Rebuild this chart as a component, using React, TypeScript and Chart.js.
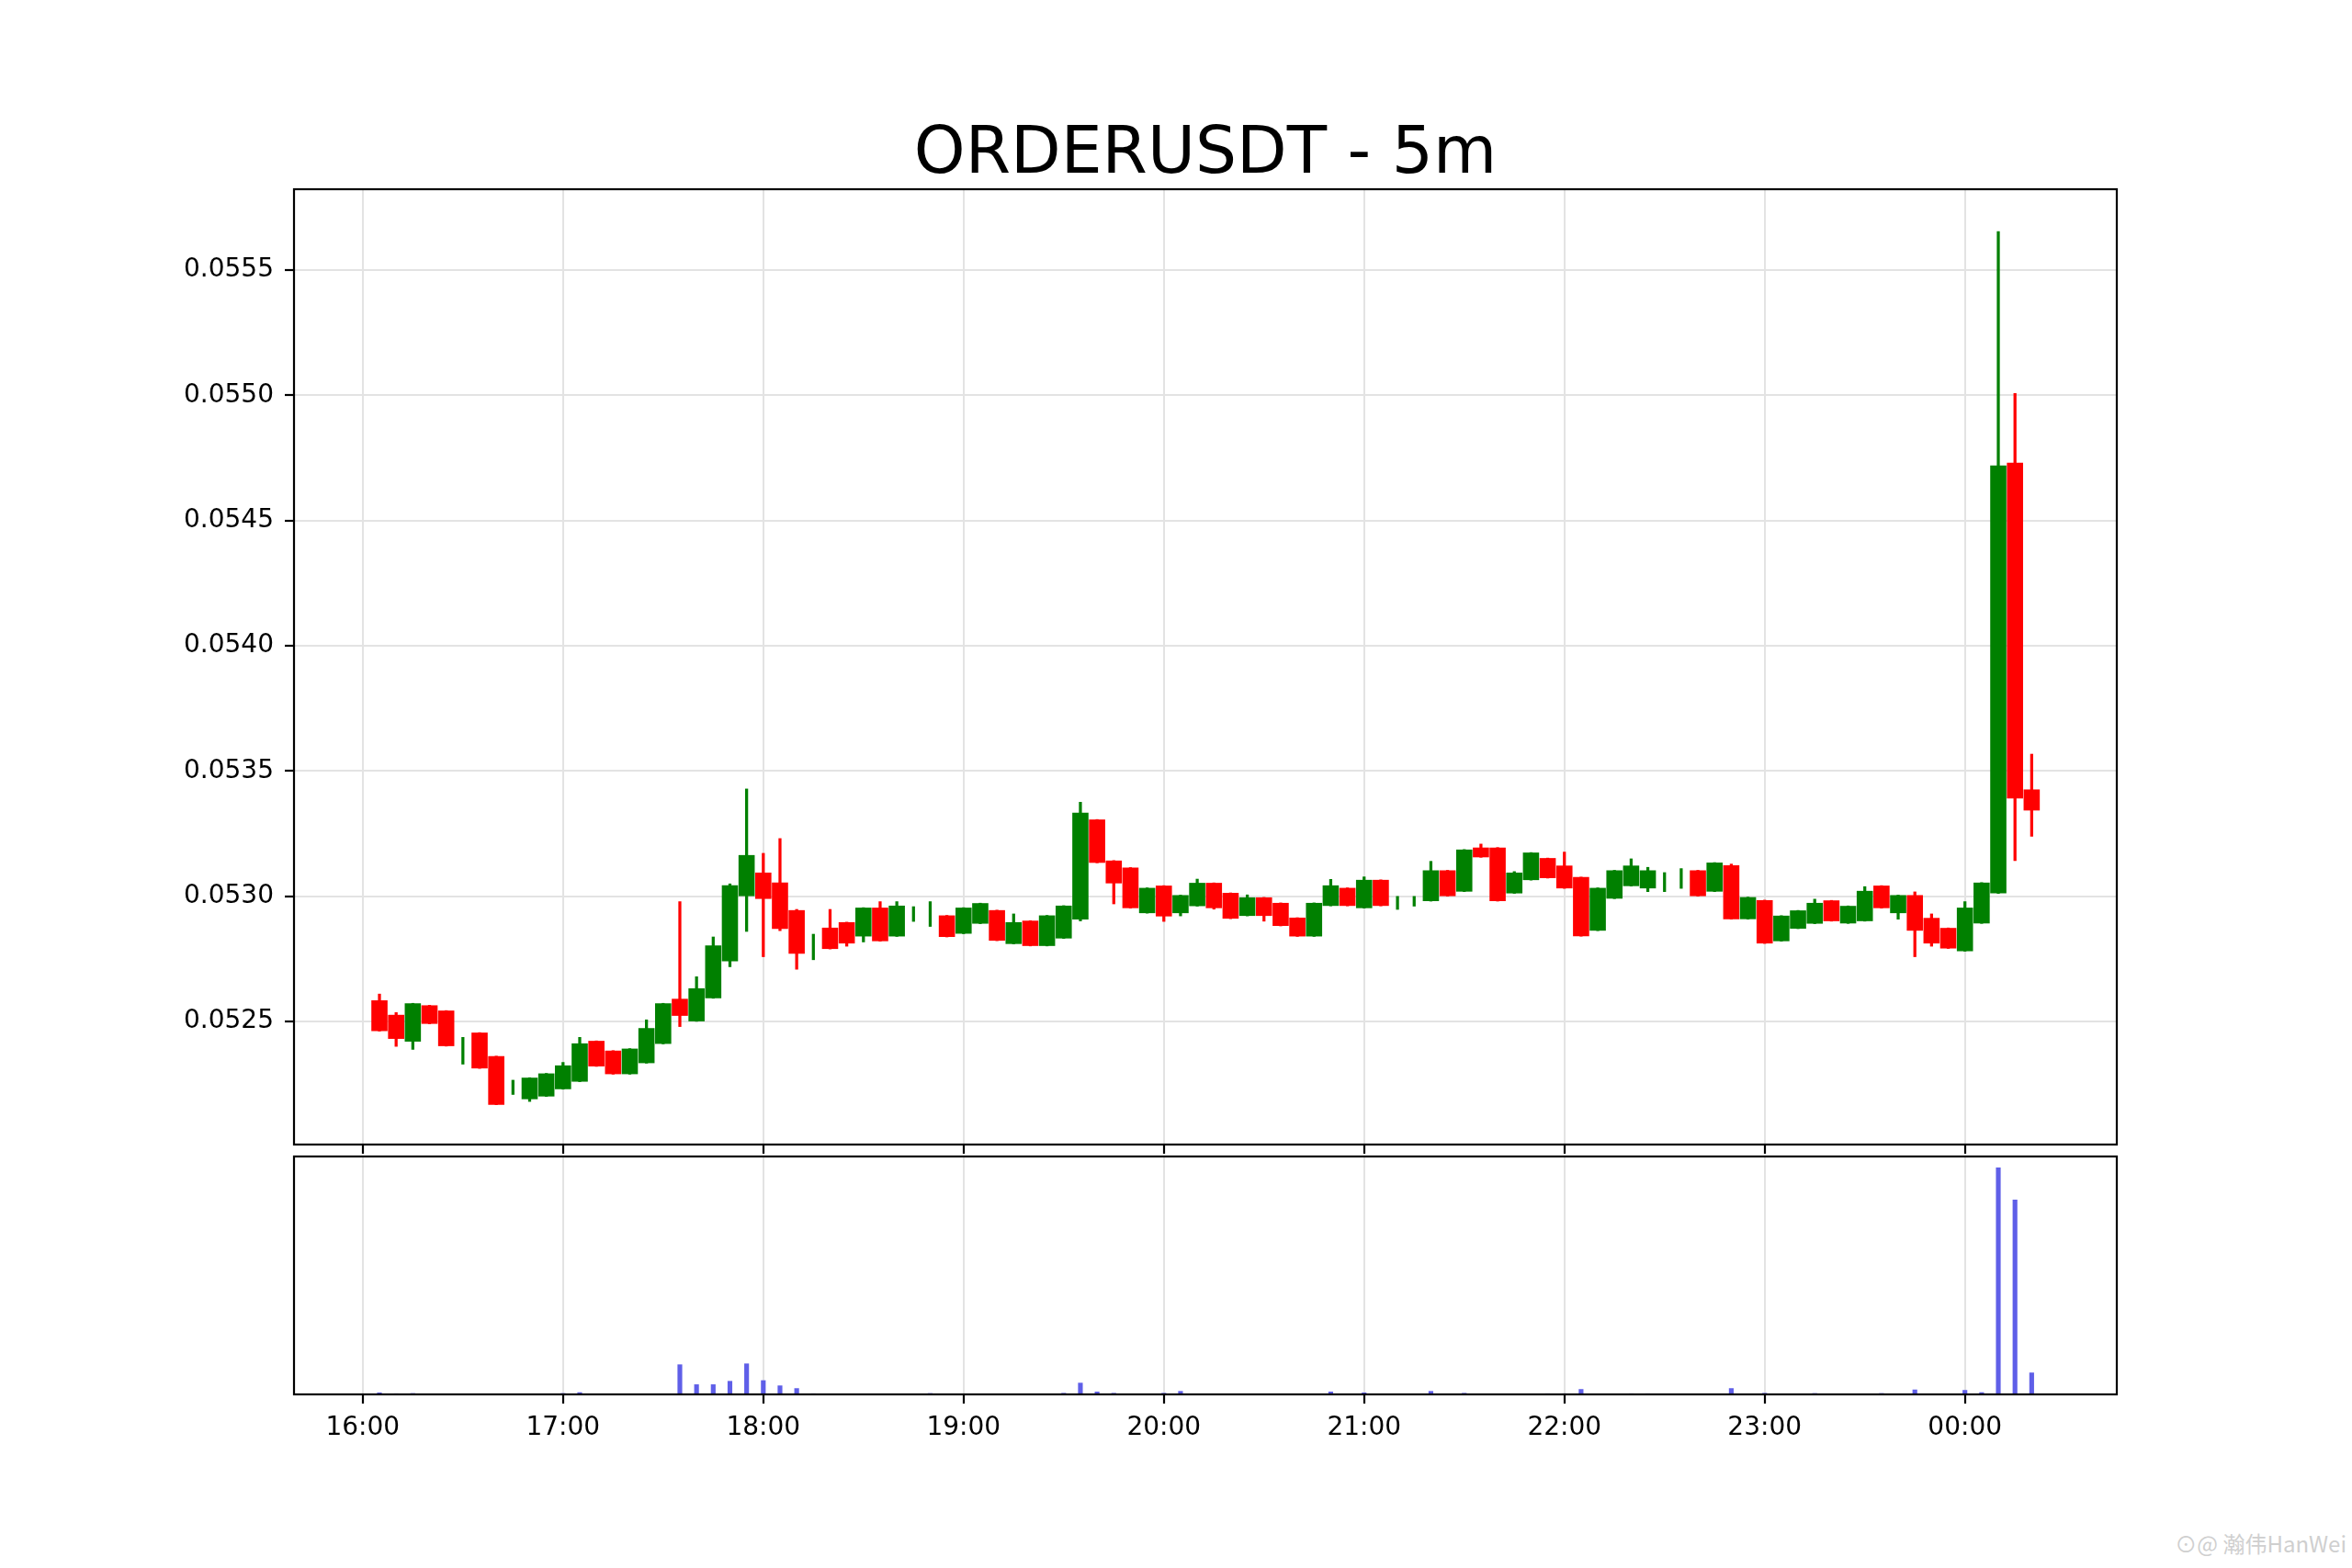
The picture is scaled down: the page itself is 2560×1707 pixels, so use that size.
import { useEffect, useRef } from "react";
import { Chart, registerables } from "chart.js";

Chart.register(...registerables);

const times = [
  "16:05", "16:10", "16:15", "16:20", "16:25", "16:30", "16:35", "16:40", "16:45", "16:50", "16:55",
  "17:00", "17:05", "17:10", "17:15", "17:20", "17:25", "17:30", "17:35", "17:40", "17:45", "17:50", "17:55",
  "18:00", "18:05", "18:10", "18:15", "18:20", "18:25", "18:30", "18:35", "18:40", "18:45", "18:50", "18:55",
  "19:00", "19:05", "19:10", "19:15", "19:20", "19:25", "19:30", "19:35", "19:40", "19:45", "19:50", "19:55",
  "20:00", "20:05", "20:10", "20:15", "20:20", "20:25", "20:30", "20:35", "20:40", "20:45", "20:50", "20:55",
  "21:00", "21:05", "21:10", "21:15", "21:20", "21:25", "21:30", "21:35", "21:40", "21:45", "21:50", "21:55",
  "22:00", "22:05", "22:10", "22:15", "22:20", "22:25", "22:30", "22:35", "22:40", "22:45", "22:50", "22:55",
  "23:00", "23:05", "23:10", "23:15", "23:20", "23:25", "23:30", "23:35", "23:40", "23:45", "23:50", "23:55",
  "00:00", "00:05", "00:10", "00:15", "00:20",
];

const opens = [
  0.052584, 0.052526, 0.052419, 0.052564, 0.052543, 0.05238, 0.052455, 0.052361, 0.05223, 0.052189, 0.0522,
  0.052229, 0.052259, 0.052422, 0.052383, 0.052289, 0.052333, 0.05241, 0.05259, 0.0525, 0.052592, 0.05274, 0.053,
  0.053094, 0.053054, 0.052944, 0.0528, 0.052874, 0.052896, 0.052839, 0.052954, 0.052839, 0.05293, 0.05293, 0.052923,
  0.05285, 0.05289, 0.052944, 0.052809, 0.052902, 0.052801, 0.052831, 0.052907, 0.053306, 0.053142, 0.053114, 0.052932,
  0.053042, 0.052932, 0.05296, 0.053053, 0.053013, 0.052921, 0.052995, 0.052973, 0.052914, 0.052839, 0.052961, 0.053033,
  0.052952, 0.053065, 0.05297, 0.05298, 0.05298, 0.053103, 0.053018, 0.053194, 0.053194, 0.053011, 0.053064, 0.053152,
  0.053122, 0.053076, 0.052862, 0.05299, 0.05304, 0.053031, 0.05306, 0.05307, 0.053103, 0.053018, 0.053123, 0.052908,
  0.052984, 0.05282, 0.05287, 0.05289, 0.052983, 0.052891, 0.0529, 0.053042, 0.052932, 0.053004, 0.052913, 0.052873,
  0.05278, 0.052891, 0.053011, 0.054731, 0.053426,
];

const highs = [
  0.052609, 0.052535, 0.052572, 0.052564, 0.052543, 0.052436, 0.052455, 0.052361, 0.052265, 0.052275, 0.052292,
  0.052336, 0.052436, 0.052422, 0.052383, 0.052391, 0.052506, 0.052572, 0.052978, 0.052678, 0.052837, 0.053049, 0.053428,
  0.053171, 0.05323, 0.052947, 0.052848, 0.052947, 0.052896, 0.052954, 0.052978, 0.052978, 0.052958, 0.052978, 0.052923,
  0.052954, 0.052972, 0.052944, 0.052929, 0.052902, 0.052923, 0.052962, 0.053375, 0.053306, 0.053142, 0.053114, 0.053033,
  0.053042, 0.053004, 0.053068, 0.053053, 0.053013, 0.053005, 0.052995, 0.052973, 0.052914, 0.052973, 0.053067, 0.053033,
  0.053077, 0.053065, 0.052999, 0.052999, 0.053139, 0.053103, 0.053186, 0.053208, 0.053194, 0.053098, 0.053174, 0.053152,
  0.053176, 0.053076, 0.053033, 0.053103, 0.053149, 0.053115, 0.053094, 0.05311, 0.053103, 0.053134, 0.053128, 0.052996,
  0.052984, 0.052922, 0.052943, 0.052988, 0.052983, 0.052961, 0.053038, 0.053042, 0.053004, 0.053017, 0.052929, 0.052873,
  0.052978, 0.053054, 0.055654, 0.055007, 0.053567,
];

const lows = [
  0.052461, 0.0524, 0.052388, 0.05249, 0.052401, 0.052329, 0.052312, 0.052167, 0.052208, 0.05218, 0.0522,
  0.052229, 0.052259, 0.05232, 0.052289, 0.052289, 0.052333, 0.05241, 0.052479, 0.0525, 0.052592, 0.052718, 0.052859,
  0.052758, 0.052862, 0.052708, 0.052746, 0.052789, 0.0528, 0.052817, 0.05282, 0.052839, 0.052899, 0.052879, 0.052837,
  0.05285, 0.05289, 0.052822, 0.052809, 0.052801, 0.052801, 0.052831, 0.052901, 0.053133, 0.052969, 0.052952, 0.052932,
  0.052899, 0.052921, 0.05296, 0.052948, 0.05291, 0.052921, 0.0529, 0.052881, 0.052839, 0.052839, 0.052961, 0.052961,
  0.052952, 0.052961, 0.052947, 0.05296, 0.05298, 0.053, 0.053018, 0.053155, 0.05298, 0.053011, 0.053064, 0.053072,
  0.053031, 0.05284, 0.052862, 0.05299, 0.05304, 0.053018, 0.053018, 0.053031, 0.053, 0.053018, 0.052908, 0.052908,
  0.052811, 0.05282, 0.05287, 0.05289, 0.0529, 0.052891, 0.0529, 0.052952, 0.052908, 0.052758, 0.0528, 0.052791,
  0.05278, 0.052891, 0.053011, 0.053142, 0.053239,
];

const closes = [
  0.052461, 0.05243, 0.052572, 0.05249, 0.052401, 0.05238, 0.052312, 0.052167, 0.05223, 0.052275, 0.052292,
  0.052324, 0.052412, 0.05232, 0.052289, 0.052391, 0.052473, 0.052572, 0.052522, 0.052632, 0.052803, 0.053043, 0.053164,
  0.052989, 0.052869, 0.05277, 0.0528, 0.052789, 0.052811, 0.052954, 0.05282, 0.052962, 0.05293, 0.05293, 0.052837,
  0.052954, 0.052972, 0.052822, 0.052896, 0.052801, 0.052923, 0.052962, 0.053333, 0.053133, 0.053051, 0.052952, 0.053033,
  0.052919, 0.053004, 0.053053, 0.052952, 0.05291, 0.052995, 0.052921, 0.052881, 0.052839, 0.052973, 0.053043, 0.052961,
  0.053065, 0.052961, 0.05297, 0.05298, 0.053103, 0.053, 0.053186, 0.053155, 0.05298, 0.053094, 0.053174, 0.053072,
  0.053031, 0.05284, 0.053033, 0.053103, 0.053122, 0.053103, 0.05306, 0.05307, 0.053, 0.053134, 0.052908, 0.052996,
  0.052811, 0.052922, 0.052943, 0.052973, 0.0529, 0.052961, 0.053021, 0.052952, 0.053004, 0.052862, 0.052811, 0.052791,
  0.052954, 0.053054, 0.05472, 0.05339, 0.053342,
];

// volume in arbitrary units (no axis labels in the reference)
const volumes = [
  0.7, 0.3, 0.4, 0.1, 0.1, 0.1, 0.2, 0.1, 0.1, 0.1, 0.1,
  0.4, 0.8, 0.1, 0.1, 0.1, 0.2, 0.2, 13.1, 4.3, 4.3, 5.8, 13.5,
  6.1, 3.8, 2.6, 0.3, 0.2, 0.2, 0.2, 0.2, 0.2, 0.1, 0.4, 0.1,
  0.2, 0.2, 0.1, 0.1, 0.1, 0.1, 0.5, 5.0, 1.1, 0.5, 0.2, 0.1,
  0.5, 1.35, 0.2, 0.1, 0.2, 0.1, 0.1, 0.1, 0.1, 0.1, 1.1, 0.1,
  0.7, 0.1, 0.1, 0.1, 1.35, 0.1, 0.5, 0.1, 0.1, 0.1, 0.2, 0.3,
  0.3, 2.2, 0.2, 0.1, 0.3, 0.3, 0.1, 0.1, 0.1, 0.2, 2.6, 0.1,
  0.5, 0.1, 0.1, 0.4, 0.1, 0.1, 0.1, 0.4, 0.1, 2.0, 0.2, 0.1,
  1.8, 0.8, 100, 85.8, 9.5,
];

const TITLE = "ORDERUSDT - 5m";
const GREEN = "#008000";
const RED = "#ff0000";
const VOL_BLUE = "#5f5fe8";
const GRID = "#e3e3e3";
const FONT = "'DejaVu Sans', sans-serif";

// minutes after 16:00
const toMinutes = (t: string) => {
  const [h, m] = t.split(":").map(Number);
  let v = h * 60 + m - 16 * 60;
  if (v < 0) v += 24 * 60;
  return v;
};
const fmtTime = (v: number) => {
  const total = 16 * 60 + Math.round(v);
  const h = Math.floor(total / 60) % 24;
  const m = total % 60;
  return `${String(h).padStart(2, "0")}:${String(m).padStart(2, "0")}`;
};

const X_MIN = -20.6;
const X_MAX = 525.5;
const Y_MIN = 0.052008;
const Y_MAX = 0.055823;

const framePlugin = {
  id: "frame",
  afterDraw(chart: any) {
    const { ctx, chartArea: a } = chart;
    ctx.save();
    ctx.strokeStyle = "#000";
    ctx.lineWidth = 2.2;
    ctx.strokeRect(a.left, a.top, a.right - a.left, a.bottom - a.top);
    ctx.restore();
  },
};

const xScale = (showLabels: boolean, height: number) => ({
  type: "linear" as const,
  min: X_MIN,
  max: X_MAX,
  offset: false,
  afterFit: (s: any) => {
    s.height = height;
  },
  border: { display: false },
  grid: {
    offset: false,
    color: GRID,
    lineWidth: 2,
    tickColor: "#000",
    tickWidth: 2.2,
    tickLength: 10,
  },
  ticks: {
    display: showLabels,
    stepSize: 60,
    includeBounds: false,
    autoSkip: false,
    maxRotation: 0,
    padding: 10,
    color: "#000",
    font: { family: FONT, size: 28 },
    callback: (v: any) => fmtTime(Number(v)),
  },
});

export default function App() {
  const priceRef = useRef<HTMLCanvasElement>(null);
  const volRef = useRef<HTMLCanvasElement>(null);

  useEffect(() => {
    if (!priceRef.current || !volRef.current) return;

    const xs = times.map(toMinutes);
    const colors = closes.map((c, i) => (c >= opens[i] ? GREEN : RED));

    const price = new Chart(priceRef.current, {
      type: "bar",
      data: {
        datasets: [
          {
            label: "body",
            data: xs.map((x, i) => ({ x, y: [opens[i], closes[i]] })) as any,
            backgroundColor: colors,
            categoryPercentage: 1,
            barPercentage: 0.97,
            grouped: false,
            order: 0,
          },
          {
            label: "wick",
            data: xs.map((x, i) => ({ x, y: [lows[i], highs[i]] })) as any,
            backgroundColor: colors,
            barThickness: 2.6,
            grouped: false,
            order: 1,
          },
        ],
      },
      options: {
        animation: false,
        responsive: true,
        maintainAspectRatio: false,
        devicePixelRatio: 1,
        layout: { padding: { left: 0, right: 256, top: 0, bottom: 0 } },
        plugins: {
          legend: { display: false },
          tooltip: { enabled: false },
          title: {
            display: true,
            text: TITLE,
            fullSize: false,
            color: "#000",
            font: { family: FONT, size: 71, weight: "normal", lineHeight: 1 },
            padding: { top: 134, bottom: 1 },
          },
        },
        scales: {
          x: xScale(false, 30) as any,
          y: {
            type: "linear",
            min: Y_MIN,
            max: Y_MAX,
            afterFit: (s: any) => {
              s.width = 320;
            },
            border: { display: false },
            grid: {
              color: GRID,
              lineWidth: 2,
              tickColor: "#000",
              tickWidth: 2.2,
              tickLength: 10,
            },
            ticks: {
              stepSize: 0.0005,
              includeBounds: false,
              padding: 12,
              color: "#000",
              font: { family: FONT, size: 28 },
              callback: (v: any) => Number(v).toFixed(4),
            },
          },
        },
      },
      plugins: [framePlugin],
    });

    const vol = new Chart(volRef.current, {
      type: "bar",
      data: {
        datasets: [
          {
            label: "volume",
            data: xs.map((x, i) => ({ x, y: volumes[i] })) as any,
            backgroundColor: VOL_BLUE,
            barThickness: 4.5,
          },
        ],
      },
      options: {
        animation: false,
        responsive: true,
        maintainAspectRatio: false,
        devicePixelRatio: 1,
        layout: { padding: { left: 0, right: 256, top: 9, bottom: 0 } },
        plugins: {
          legend: { display: false },
          tooltip: { enabled: false },
        },
        scales: {
          x: xScale(true, 62) as any,
          y: {
            type: "linear",
            min: 0,
            max: Math.max(...volumes) * 1.05,
            afterFit: (s: any) => {
              s.width = 320;
            },
            border: { display: false },
            grid: { display: false },
            ticks: { display: false },
          },
        },
      },
      plugins: [framePlugin],
    });

    return () => {
      price.destroy();
      vol.destroy();
    };
  }, []);

  return (
    <div
      style={{
        position: "absolute",
        left: 0,
        top: 0,
        width: 2560,
        height: 1707,
        background: "#fff",
        overflow: "hidden",
      }}
    >
      <div style={{ position: "absolute", left: 0, top: 0, width: 2560, height: 1276 }}>
        <canvas ref={priceRef} />
      </div>
      <div style={{ position: "absolute", left: 0, top: 1250, width: 2560, height: 330 }}>
        <canvas ref={volRef} />
      </div>
      <div
        style={{
          position: "absolute",
          right: 6,
          bottom: 10,
          color: "#cfcfcf",
          fontSize: 24,
          fontFamily: "'Noto Sans CJK SC', sans-serif",
        }}
      >
        ⊙@ 瀚伟HanWei
      </div>
    </div>
  );
}
